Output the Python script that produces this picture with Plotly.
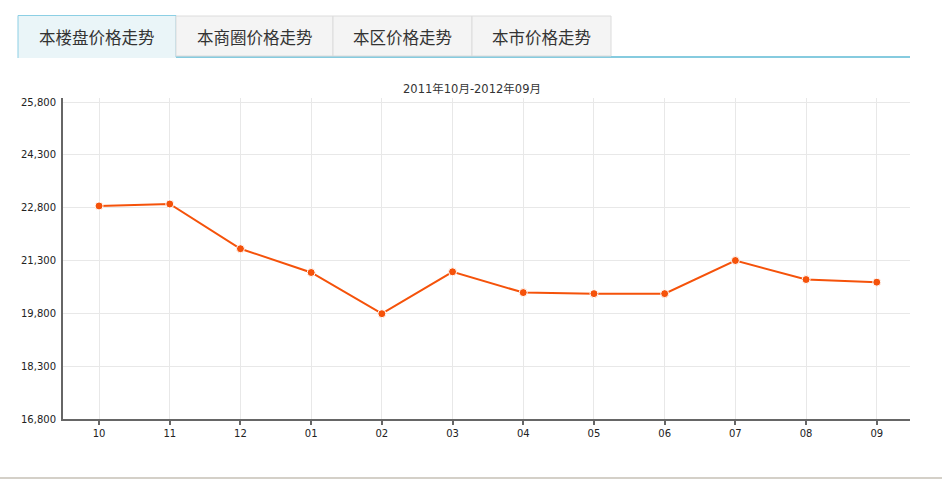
import plotly.graph_objects as go

months = ["10", "11", "12", "01", "02", "03", "04", "05", "06", "07", "08", "09"]
prices = [22850, 22905, 21635, 20960, 19790, 20980, 20390, 20360, 20360, 21300, 20760, 20685]
y_ticks = [16800, 18300, 19800, 21300, 22800, 24300, 25800]
tab_labels = ["本楼盘价格走势", "本商圈价格走势", "本区价格走势", "本市价格走势"]
chart_title = "2011年10月-2012年09月"

W, H = 942, 479
L, R, T, B = 63, 910, 98, 419


def px(x):
    return (x - L) / (R - L)


def py(y):
    return (B - y) / (B - T)


fig = go.Figure()
fig.add_trace(go.Scatter(
    x=list(range(len(months))), y=prices, mode="lines+markers",
    line=dict(color="#f5520a", width=2),
    marker=dict(size=8, color="#f5520a", line=dict(color="white", width=1)),
    hoverinfo="y",
))

shapes = []
# tab bar bottom line
shapes.append(dict(type="rect", xref="paper", yref="paper", x0=px(176), x1=px(910), y0=py(58), y1=py(56),
                   fillcolor="#86cbdf", line=dict(width=0)))
tab_edges = [18, 176, 333, 472, 611]
for i in range(4):
    x0, x1 = tab_edges[i], tab_edges[i + 1]
    if i == 0:
        shapes.append(dict(type="rect", xref="paper", yref="paper", x0=px(x0), x1=px(x1), y0=py(58), y1=py(15),
                           fillcolor="#eaf5f8", line=dict(width=0)))
        shapes.append(dict(type="path", xref="paper", yref="paper",
                           path=f"M {px(x0)} {py(58)} L {px(x0)} {py(15.5)} L {px(x1)} {py(15.5)} L {px(x1)} {py(57)}",
                           line=dict(color="#8ccfe4", width=1)))
    else:
        shapes.append(dict(type="rect", xref="paper", yref="paper", x0=px(x0), x1=px(x1), y0=py(56), y1=py(16),
                           fillcolor="#f4f4f4", line=dict(color="#dcdcdc", width=1)))
# bottom page line
shapes.append(dict(type="line", xref="paper", yref="paper", x0=px(0), x1=px(942), y0=py(478), y1=py(478),
                   line=dict(color="#d4d0c8", width=2)))

annotations = []
for i, lab in enumerate(tab_labels):
    cx = (tab_edges[i] + tab_edges[i + 1]) / 2
    annotations.append(dict(text=lab, xref="paper", yref="paper", x=px(cx), y=py(37), showarrow=False,
                            xanchor="center", yanchor="middle",
                            font=dict(family="Noto Sans CJK SC", size=16.5, color="#333333")))
annotations.append(dict(text=chart_title, xref="paper", yref="paper", x=px(472), y=py(89), showarrow=False,
                        xanchor="center", yanchor="middle",
                        font=dict(family="DejaVu Sans, Noto Sans CJK SC", size=11.5, color="#333333")))

fig.update_layout(
    width=W, height=H,
    margin=dict(l=L, r=W - R, t=T, b=H - B, pad=0),
    paper_bgcolor="white", plot_bgcolor="white",
    showlegend=False,
    shapes=shapes, annotations=annotations,
    xaxis=dict(
        tickmode="array", tickvals=list(range(len(months))), ticktext=months,
        range=[-0.51, 11.47], showgrid=True, gridcolor="#e8e8e8", gridwidth=1,
        showline=True, linecolor="#666666", linewidth=2,
        ticks="outside", ticklen=4, tickcolor="#666666", tickwidth=2,
        tickfont=dict(family="DejaVu Sans", size=10, color="#222222"),
        zeroline=False, fixedrange=True,
    ),
    yaxis=dict(
        tickmode="array", tickvals=y_ticks, ticktext=[f"{v:,}" for v in y_ticks],
        range=[16800, 25915], showgrid=True, gridcolor="#e8e8e8", gridwidth=1,
        showline=True, linecolor="#666666", linewidth=2,
        ticks="", ticklabelstandoff=3,
        tickfont=dict(family="DejaVu Sans", size=10, color="#222222"),
        zeroline=False, fixedrange=True,
    ),
)

fig.write_html("out.html", config={"displayModeBar": False},
               post_script="document.body.style.margin='0';document.body.style.overflow='hidden';")
